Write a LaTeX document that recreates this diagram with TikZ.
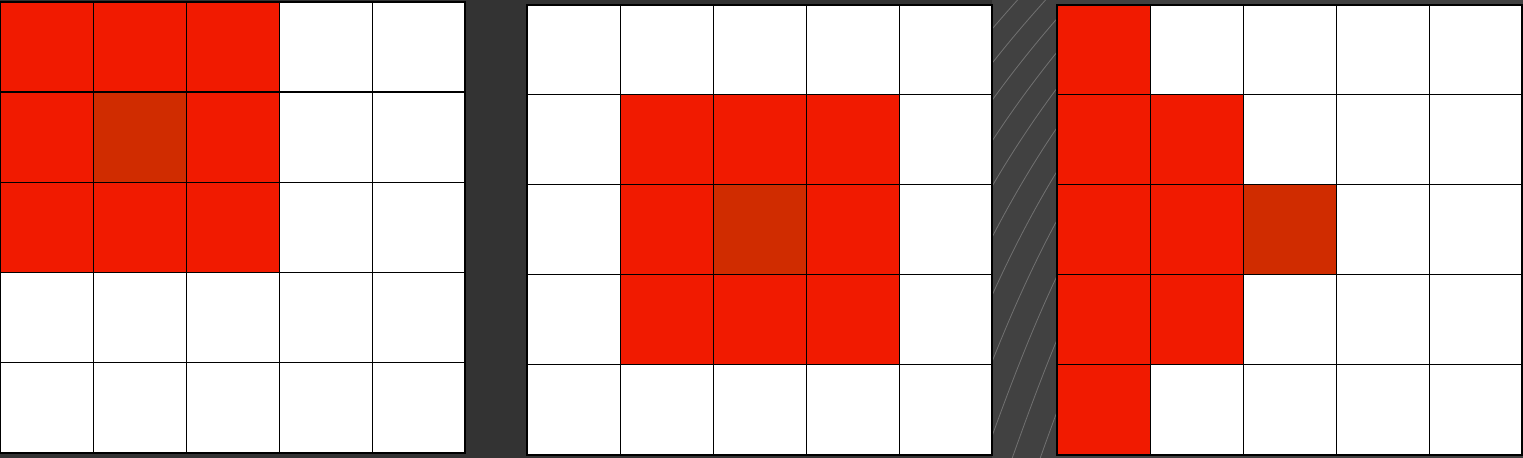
\documentclass[tikz,border=0pt]{standalone}
\usepackage{xcolor}
\usetikzlibrary{positioning}
\definecolor{hitred}{HTML}{F11A00}
\definecolor{centred}{HTML}{D02C00}
\definecolor{panelbg}{HTML}{333333}
\definecolor{deskbg}{HTML}{414141}

\begin{document}
\begin{tikzpicture}[
      x=0.5pt, y=-0.5pt,
      cell/.style={draw=black, line width=0.5pt, fill=white, minimum width=46.5pt, minimum height=45pt, inner sep=0pt, outer sep=0pt, anchor=north west},
      hit/.style={cell, fill=hitred},
      centre/.style={cell, fill=centred},
      frame/.style={draw=black, line width=1pt},
      streak/.style={draw=white, opacity=0.25, line width=0.4pt}
    ]
    % background
    \fill[panelbg] (0,0) rectangle (1523,458);
    \fill[deskbg] (992,0) rectangle (1523,458);
    \begin{scope}
      \clip (992,0) rectangle (1057,458);
      \foreach \k in {0,...,14}
        \draw[streak] (700+28*\k,470) .. controls (760+28*\k,300) and (820+28*\k,150) .. (980+28*\k,-20);
    \end{scope}
    \useasboundingbox (0,0) rectangle (1523,458);

    % left grid: top-left corner
    \foreach \r in {0,...,4}
      \foreach \c in {0,...,4}
        \node[cell] (a-\r-\c) at ({93*\c},{2+90.2*\r}) {};
    \foreach \r/\c in {0/0,0/1,0/2,1/0,1/2,2/0,2/1,2/2}
      \node[hit] (ah-\r-\c) at ({93*\c},{2+90.2*\r}) {};
    \node[centre] (ac) at (93,92.2) {};
    \draw[frame] (a-0-0.north west) rectangle (a-4-4.south east);

    % middle grid: centre
    \foreach \r in {0,...,4}
      \foreach \c in {0,...,4}
        \node[cell] (b-\r-\c) at ({527+93*\c},{5+90*\r}) {};
    \foreach \r/\c in {1/1,1/2,1/3,2/1,2/3,3/1,3/2,3/3}
      \node[hit] (bh-\r-\c) at ({527+93*\c},{5+90*\r}) {};
    \node[centre] (bc) at (713,185) {};
    \draw[frame] (b-0-0.north west) rectangle (b-4-4.south east);

    % right grid: left edge
    \foreach \r in {0,...,4}
      \foreach \c in {0,...,4}
        \node[cell] (c-\r-\c) at ({1057+93*\c},{5+90*\r}) {};
    \foreach \r/\c in {0/0,1/0,2/0,3/0,4/0,1/1,2/1,3/1}
      \node[hit] (ch-\r-\c) at ({1057+93*\c},{5+90*\r}) {};
    \node[centre] (cc) at (1243,185) {};
    \draw[frame] (c-0-0.north west) rectangle (c-4-4.south east);
  \end{tikzpicture}
\end{document}
